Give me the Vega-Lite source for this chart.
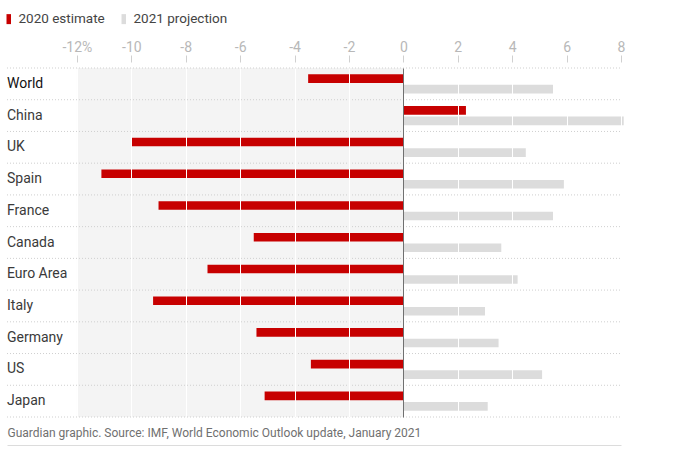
{
  "$schema": "https://vega.github.io/schema/vega-lite/v6.json",
  "width": 614,
  "height": 349,
  "autosize": "none",
  "padding": {"left": 7, "top": 68, "right": 56, "bottom": 32},
  "config": {
    "font": "Roboto",
    "view": {"stroke": null},
    "axis": {"labelFont": "Roboto", "titleFont": "Roboto"},
    "legend": {"labelFont": "Roboto"}
  },
  "data": {
    "values": [
      {"country": "World", "series": "2020 estimate", "value": -3.5},
      {"country": "World", "series": "2021 projection", "value": 5.5},
      {"country": "China", "series": "2020 estimate", "value": 2.3},
      {"country": "China", "series": "2021 projection", "value": 8.1},
      {"country": "UK", "series": "2020 estimate", "value": -10.0},
      {"country": "UK", "series": "2021 projection", "value": 4.5},
      {"country": "Spain", "series": "2020 estimate", "value": -11.1},
      {"country": "Spain", "series": "2021 projection", "value": 5.9},
      {"country": "France", "series": "2020 estimate", "value": -9.0},
      {"country": "France", "series": "2021 projection", "value": 5.5},
      {"country": "Canada", "series": "2020 estimate", "value": -5.5},
      {"country": "Canada", "series": "2021 projection", "value": 3.6},
      {"country": "Euro Area", "series": "2020 estimate", "value": -7.2},
      {"country": "Euro Area", "series": "2021 projection", "value": 4.2},
      {"country": "Italy", "series": "2020 estimate", "value": -9.2},
      {"country": "Italy", "series": "2021 projection", "value": 3.0},
      {"country": "Germany", "series": "2020 estimate", "value": -5.4},
      {"country": "Germany", "series": "2021 projection", "value": 3.5},
      {"country": "US", "series": "2020 estimate", "value": -3.4},
      {"country": "US", "series": "2021 projection", "value": 5.1},
      {"country": "Japan", "series": "2020 estimate", "value": -5.1},
      {"country": "Japan", "series": "2021 projection", "value": 3.1}
    ]
  },
  "resolve": {"axis": {"x": "independent"}},
  "layer": [
    {
      "data": {"values": [{"band": "shade"}]},
      "mark": {"type": "rect", "color": "#f4f4f4"},
      "encoding": {
        "x": {"datum": -12, "type": "quantitative", "scale": {"domain": [-14.57, 8], "nice": false, "zero": false}, "axis": null},
        "x2": {"datum": 0}
      }
    },
    {
      "transform": [{"filter": "datum.series === '2020 estimate'"}],
      "mark": {"type": "rule", "color": "#cfcfcf", "strokeDash": [1, 2], "strokeWidth": 1},
      "encoding": {
        "y": {"field": "country", "type": "nominal", "sort": null, "bandPosition": 0, "scale": {"paddingInner": 0, "paddingOuter": 0}, "axis": null},
        "x": {"datum": -14.57, "type": "quantitative", "axis": null},
        "x2": {"datum": 8}
      }
    },
    {
      "transform": [{"filter": "datum.country === 'Japan' && datum.series === '2020 estimate'"}],
      "mark": {"type": "rule", "color": "#cfcfcf", "strokeDash": [1, 2], "strokeWidth": 1},
      "encoding": {
        "y": {"field": "country", "type": "nominal", "sort": null, "bandPosition": 1, "axis": null},
        "x": {"datum": -14.57, "type": "quantitative", "axis": null},
        "x2": {"datum": 8}
      }
    },
    {
      "mark": {"type": "bar"},
      "encoding": {
        "y": {"field": "country", "type": "nominal", "sort": null, "axis": null},
        "yOffset": {"field": "series", "type": "nominal", "scale": {"paddingInner": 0.18, "paddingOuter": 0.6}},
        "x": {
          "field": "value",
          "type": "quantitative",
          "axis": {
            "orient": "top",
            "values": [-12, -10, -8, -6, -4, -2, 0, 2, 4, 6, 8],
            "labelExpr": "datum.value == -12 ? '-12%' : '' + datum.value",
            "grid": true,
            "gridColor": {"condition": {"test": "datum.value === 0", "value": "#707070"}, "value": "#ffffff"},
            "gridWidth": 1,
            "zindex": 1,
            "domain": false,
            "ticks": true,
            "tickColor": "#d0d0d0",
            "tickSize": 7,
            "offset": 6,
            "labelColor": "#b8b8b8",
            "labelFontSize": 14,
            "labelPadding": 1,
            "labelFlush": false,
            "title": null
          }
        },
        "color": {
          "field": "series",
          "type": "nominal",
          "scale": {"domain": ["2020 estimate", "2021 projection"], "range": ["#c70000", "#dcdcdc"]},
          "legend": {
            "orient": "none",
            "legendX": -5,
            "legendY": -56,
            "padding": 0,
            "direction": "horizontal",
            "title": null,
            "symbolType": "M-0.45,-1H0.45V1H-0.45Z",
            "symbolSize": 100,
            "symbolStrokeWidth": 0,
            "symbolOffset": 0,
            "labelFontSize": 13.5,
            "labelColor": "#444444",
            "labelOffset": 3,
            "columnPadding": 12
          }
        }
      }
    },
    {
      "transform": [{"filter": "datum.series === '2020 estimate'"}],
      "mark": {"type": "text", "align": "left", "baseline": "middle", "fontSize": 14, "fontWeight": "normal"},
      "encoding": {
        "y": {"field": "country", "type": "nominal", "sort": null, "axis": null},
        "x": {
          "datum": -14.57,
          "type": "quantitative",
          "axis": {
            "orient": "bottom",
            "labels": false,
            "ticks": false,
            "grid": false,
            "domain": true,
            "domainColor": "#dcdcdc",
            "offset": 28,
            "title": "Guardian graphic. Source: IMF, World Economic Outlook update, January 2021",
            "titleAnchor": "start",
            "titleAlign": "left",
            "titleX": 0,
            "titleY": -13,
            "titleBaseline": "middle",
            "titleFontWeight": "normal",
            "titleColor": "#707070",
            "titleFontSize": 12
          }
        },
        "text": {"field": "country"},
        "color": {"condition": {"test": "datum.country === 'World'", "value": "#121212"}, "value": "#3a3a3a"}
      }
    }
  ]
}
